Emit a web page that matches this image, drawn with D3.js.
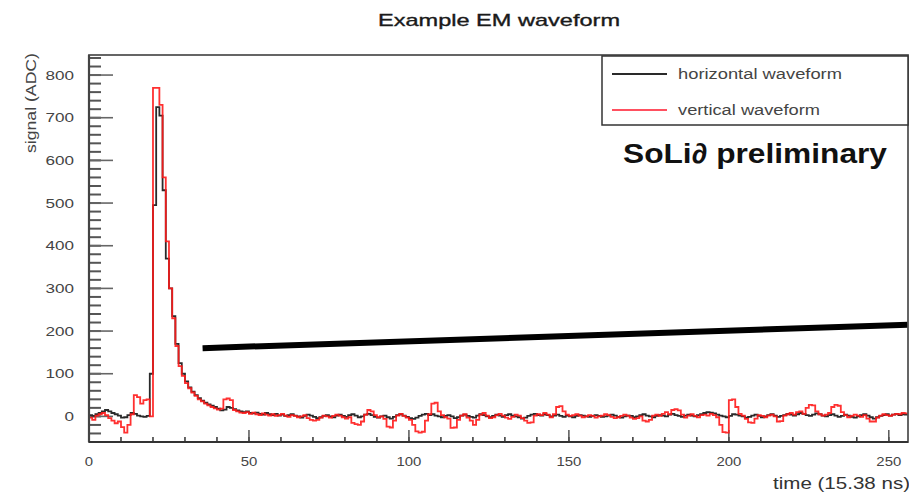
<!DOCTYPE html>
<html><head><meta charset="utf-8">
<script src="https://cdn.jsdelivr.net/npm/d3@7"></script>
<style>body{margin:0;background:#fff}svg{display:block}</style>
</head><body><svg id="c" width="909" height="495"></svg>
<script>
const title = "Example EM waveform";
const xLabel = "time (15.38 ns)";
const yLabel = "signal (ADC)";
const legendLabels = ["horizontal waveform", "vertical waveform"];
const watermark = "SoLi\u2202 preliminary";
const xTicks = [0, 50, 100, 150, 200, 250];
const yTicks = [0, 100, 200, 300, 400, 500, 600, 700, 800];
const xDomain = [0, 256];
const yDomain = [-60, 847];

// horizontal waveform, one value per time bin (0..255)
const horizontal = [
  3, 1, 5, 8, 12, 15, 12, 8, 5, 2, -3, -2, 3, 8, 6, 2,
  0, -1, 1, 100, 495, 725, 705, 530, 370, 300, 235, 170, 125, 100, 82, 68,
  58, 50, 43, 37, 32, 28, 25, 22, 18, 14, 16, 22, 20, 17, 14, 12,
  10, 12, 8, 7, 9, 6, 4, 8, 5, 3, 6, 2, 4, 1, 3, 5,
  2, 0, -3, 1, 4, 2, -1, -4, -2, 1, 3, 0, -2, 2, 4, 1,
  -1, 3, 5, 2, -2, 0, 4, 6, 3, -1, -3, 0, 2, -2, -5, -1,
  3, 5, 2, -1, -4, -6, -3, 1, 4, 6, 3, 5, 2, 0, -2, 1,
  3, 0, -4, -2, 2, 4, 1, -1, -3, 2, 5, 3, 0, -2, 1, 4,
  2, -1, 3, 5, 2, 0, -2, -5, -3, 1, 4, 6, 3, 2, 5, 3,
  0, 2, 4, 1, -1, 2, 0, -2, 1, 3, 2, 0, -1, 1, 3, 1,
  -1, 0, 2, 4, 2, -1, -3, 0, 2, 1, -2, 0, 3, 5, 2, 0,
  -2, 1, 3, 2, 0, 4, 6, 3, 1, -1, 2, 4, 2, 0, 3, 5,
  8, 10, 9, 7, 4, 2, 0, -2, 1, 5, 4, 2, 0, -3, -1, 2,
  4, 1, -2, 0, 3, 5, 2, -1, 1, 3, 6, 4, 2, 5, 8, 6,
  3, 1, 4, 7, 5, 2, 0, 3, 5, 2, -1, 1, 4, 2, -1, -3,
  0, 3, 5, 2, -2, -5, -2, 1, 3, 5, 2, 4, 6, 3, 5, 4
];

// vertical waveform, one value per time bin (0..255)
const vertical = [
  -3, -8, 2, 5, 8, 3, -4, -10, -16, -12, -25, -38, -20, 5, 50, 45,
  30, 38, 40, 0, 770, 770, 730, 560, 410, 300, 230, 165, 118, 95, 78, 66,
  56, 48, 40, 35, 30, 26, 22, 19, 16, 18, 40, 42, 38, 15, 12, 9,
  8, 10, 6, 9, 5, 3, 7, 4, 2, 5, 1, 3, 6, 2, -1, 3,
  1, -2, 0, 3, -4, -8, -10, -8, -3, 2, 0, -3, 1, 4, 2, -2,
  -5, -2, -15, -18, -20, -12, 4, 15, 12, 3, -2, 0, -6, -24, -26, -10,
  2, 6, 1, -3, -8, -20, -35, -38, -36, -10, 5, 30, 32, 12, 3, -2,
  -5, -27, -26, -8, 2, 5, -3, -10, -20, -8, 4, 8, 2, -4, -2, 3,
  6, 2, -3, -6, -1, 4, 2, -4, -10, -15, -14, 2, 5, 3, 8, 4,
  -2, 5, 22, 24, 12, 4, 1, 3, 5, 2, -2, 0, 3, 1, -3, 0,
  2, 5, 3, -1, -4, -2, 1, 4, 2, -3, -6, -4, 0, -10, -12, -8,
  2, 4, 1, 6, 10, 5, 15, 17, 14, 4, -3, 2, 5, 1, -2, 3,
  4, 2, 6, 3, -2, -20, -37, -38, 38, 40, 22, 6, 2, -6, -14, -15,
  -5, 3, 1, -2, 2, 4, 0, -12, -11, 2, 5, 8, 4, 10, 12, 6,
  20, 27, 26, 12, 5, 2, 4, 8, 22, 27, 25, 10, 3, -2, 1, 4,
  2, -1, 3, -5, -12, -12, -3, 2, 5, 3, 1, 4, 6, 5, 8, 7
];

// hand-drawn thick stroke across the plot (data coordinates)
const strokeX = [35.5, 256];
const strokeY = [160, 215];

const svg = d3.select("#c");
const W = 909, H = 495;
const m = {left: 89, top: 55, right: 908, bottom: 442};
const font = "'Liberation Sans', Arial, sans-serif";

const x = d3.scaleLinear().domain(xDomain).range([m.left, m.right]);
const y = d3.scaleLinear().domain(yDomain).range([m.bottom, m.top]);

svg.append("rect").attr("width", W).attr("height", H).attr("fill", "#fff");

const clipId = "plotclip";
svg.append("clipPath").attr("id", clipId).append("rect")
  .attr("x", m.left).attr("y", m.top).attr("width", m.right - m.left).attr("height", m.bottom - m.top);

// title
svg.append("text").attr("x", 499).attr("y", 26).attr("text-anchor", "middle")
  .attr("font-family", font).attr("font-size", 17).attr("fill", "#1a1a1a")
  .attr("stroke", "#1a1a1a").attr("stroke-width", 0.35)
  .attr("textLength", 242).attr("lengthAdjust", "spacingAndGlyphs").text(title);

// y axis ticks (ROOT style, inside the frame)
const yMinor = d3.range(-60, 848, 20).filter(v => v >= yDomain[0] && v <= yDomain[1]);
const gT = svg.append("g");
gT.selectAll("line.ymin").data(yMinor).join("line")
  .attr("x1", m.left).attr("x2", m.left + 12)
  .attr("y1", d => y(d)).attr("y2", d => y(d))
  .attr("stroke", "#555").attr("stroke-width", 2);
gT.selectAll("line.ymaj").data(yTicks).join("line")
  .attr("x1", m.left).attr("x2", m.left + 24)
  .attr("y1", d => y(d)).attr("y2", d => y(d))
  .attr("stroke", "#666").attr("stroke-width", 1.6);
const xMinor = d3.range(0, 257, 10);
gT.selectAll("line.xmin").data(xMinor).join("line")
  .attr("x1", d => x(d)).attr("x2", d => x(d))
  .attr("y1", m.bottom).attr("y2", m.bottom - 5)
  .attr("stroke", "#333").attr("stroke-width", 1.5);
gT.selectAll("line.xmaj").data(xTicks).join("line")
  .attr("x1", d => x(d)).attr("x2", d => x(d))
  .attr("y1", m.bottom).attr("y2", m.bottom - 12)
  .attr("stroke", "#555").attr("stroke-width", 1.5);

// tick labels
svg.append("g").selectAll("text").data(yTicks).join("text")
  .attr("x", 74).attr("y", d => y(d) + 4.5).attr("text-anchor", "end")
  .attr("font-family", font).attr("font-size", 13).attr("fill", "#444")
  .attr("textLength", d => String(d).length * 9.5).attr("lengthAdjust", "spacingAndGlyphs")
  .text(d => d);
svg.append("g").selectAll("text").data(xTicks).join("text")
  .attr("x", d => x(d)).attr("y", 466).attr("text-anchor", "middle")
  .attr("font-family", font).attr("font-size", 13).attr("fill", "#444")
  .attr("textLength", d => String(d).length * 8.3).attr("lengthAdjust", "spacingAndGlyphs")
  .text(d => d);

// axis titles
svg.append("text").attr("transform", "translate(36,53) rotate(-90)")
  .attr("text-anchor", "end").attr("font-family", font).attr("font-size", 15)
  .attr("fill", "#444").attr("textLength", 100).attr("lengthAdjust", "spacingAndGlyphs").text(yLabel);
svg.append("text").attr("x", 910).attr("y", 489).attr("text-anchor", "end")
  .attr("font-family", font).attr("font-size", 17).attr("fill", "#333")
  .attr("textLength", 137).attr("lengthAdjust", "spacingAndGlyphs").text(xLabel);

// histogram step lines
const stepLine = d3.line().x(d => x(d[0])).y(d => y(d[1])).curve(d3.curveStepAfter);
function pts(arr) {
  const p = arr.map((v, i) => [i, v]);
  p.push([arr.length, arr[arr.length - 1]]);
  return p;
}
const gP = svg.append("g").attr("clip-path", `url(#${clipId})`);
gP.append("path").attr("d", stepLine(pts(horizontal)))
  .attr("fill", "none").attr("stroke", "#2a2a2a").attr("stroke-width", 1.8);
gP.append("path").attr("d", stepLine(pts(vertical)))
  .attr("fill", "none").attr("stroke", "#ff1a1a").attr("stroke-width", 1.8).attr("stroke-opacity", 0.9);

// thick hand-drawn stroke
gP.append("line")
  .attr("x1", x(strokeX[0])).attr("y1", y(strokeY[0]))
  .attr("x2", x(strokeX[1])).attr("y2", y(strokeY[1]))
  .attr("stroke", "#000").attr("stroke-width", 6);

// frame
svg.append("rect").attr("x", m.left).attr("y", m.top)
  .attr("width", m.right - m.left).attr("height", m.bottom - m.top)
  .attr("fill", "none").attr("stroke", "#555").attr("stroke-width", 1.8);
svg.append("line").attr("x1", m.left).attr("x2", m.left).attr("y1", m.top).attr("y2", m.bottom)
  .attr("stroke", "#444").attr("stroke-width", 2.2);
svg.append("line").attr("x1", m.left).attr("x2", m.right).attr("y1", m.bottom).attr("y2", m.bottom)
  .attr("stroke", "#333").attr("stroke-width", 2.2);

// legend
const lg = svg.append("g");
lg.append("rect").attr("x", 602).attr("y", 56).attr("width", 306).attr("height", 69)
  .attr("fill", "#fff").attr("stroke", "#333").attr("stroke-width", 1.5);
const legColors = ["#2a2a2a", "#ff5060"];
const legWidths = [164, 142];
legendLabels.forEach((t, i) => {
  const yy = 74 + i * 36;
  lg.append("line").attr("x1", 612).attr("x2", 667).attr("y1", yy).attr("y2", yy)
    .attr("stroke", legColors[i]).attr("stroke-width", 2.2);
  lg.append("text").attr("x", 678).attr("y", yy + 5)
    .attr("font-family", font).attr("font-size", 14).attr("fill", "#444")
    .attr("textLength", legWidths[i]).attr("lengthAdjust", "spacingAndGlyphs").text(t);
});

// watermark
svg.append("text").attr("x", 623).attr("y", 163)
  .attr("font-family", font).attr("font-size", 28).attr("font-weight", "bold")
  .attr("fill", "#111").attr("textLength", 264).attr("lengthAdjust", "spacingAndGlyphs").text(watermark);
</script>
</body></html>
